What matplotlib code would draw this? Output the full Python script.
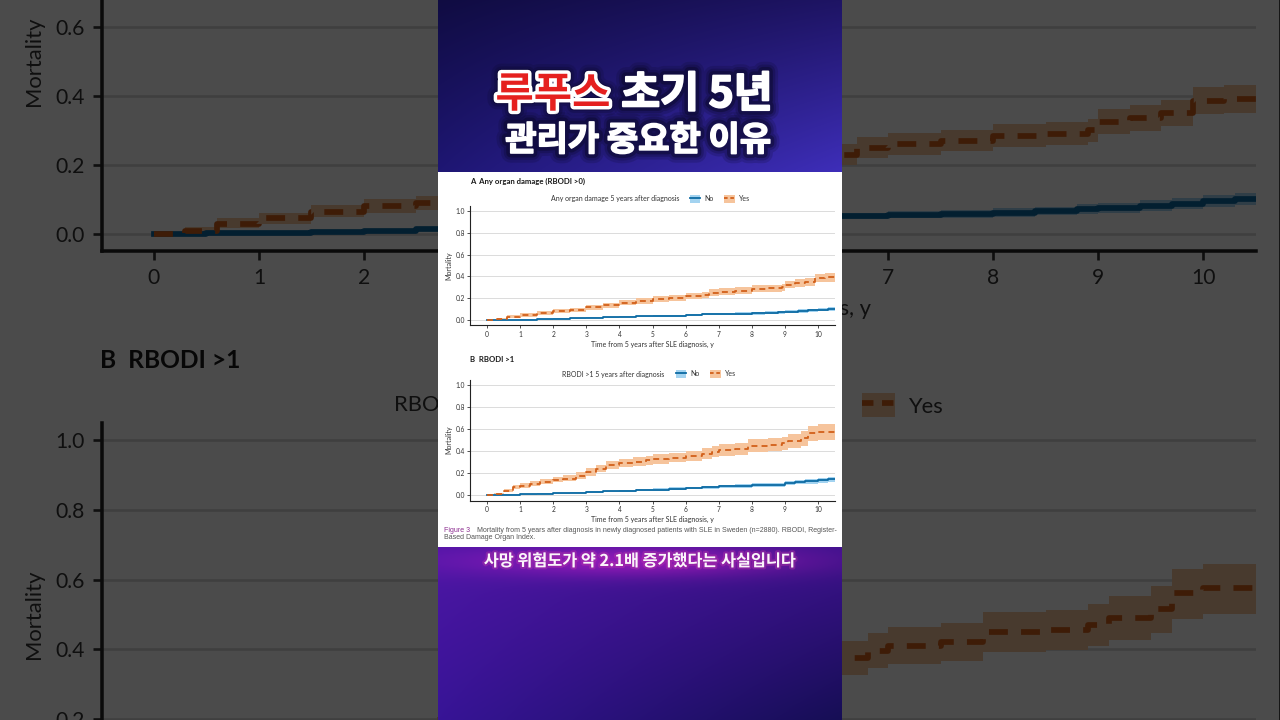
import numpy as np
import matplotlib
matplotlib.use("Agg")
import matplotlib.pyplot as plt
from matplotlib.patches import Patch, Rectangle
from matplotlib.lines import Line2D
import matplotlib.patheffects as pe

# ---------------- data ----------------
# Panel A: Any organ damage (RBODI >0)
t_a_yes = [0, 0.3, 0.6, 1.0, 1.5, 2.0, 2.5, 3.0, 3.5, 4.0, 4.5, 5.0, 5.5, 6.0, 6.5, 6.7, 7.0, 7.5, 8.0, 8.5, 8.9, 9.0, 9.3, 9.6, 9.9, 10.2, 10.5]
m_a_yes = [0, 0.010, 0.030, 0.045, 0.065, 0.080, 0.090, 0.115, 0.135, 0.160, 0.175, 0.190, 0.200, 0.220, 0.230, 0.250, 0.260, 0.270, 0.285, 0.290, 0.300, 0.325, 0.335, 0.350, 0.385, 0.390, 0.390]
lo_a_yes = [0, 0.003, 0.018, 0.030, 0.048, 0.062, 0.070, 0.093, 0.112, 0.136, 0.150, 0.164, 0.173, 0.192, 0.201, 0.220, 0.230, 0.239, 0.253, 0.258, 0.267, 0.290, 0.299, 0.313, 0.346, 0.350, 0.350]
hi_a_yes = [0, 0.020, 0.045, 0.062, 0.084, 0.100, 0.111, 0.138, 0.159, 0.185, 0.201, 0.217, 0.228, 0.249, 0.260, 0.281, 0.291, 0.302, 0.318, 0.323, 0.334, 0.361, 0.372, 0.388, 0.425, 0.430, 0.430]

t_a_no = [0, 0.5, 1.0, 1.5, 2.0, 2.5, 3.0, 3.5, 4.0, 4.5, 5.0, 5.5, 6.0, 6.5, 7.0, 7.5, 8.0, 8.4, 8.8, 9.0, 9.4, 9.7, 10.0, 10.3, 10.5]
m_a_no = [0, 0.002, 0.004, 0.007, 0.010, 0.015, 0.020, 0.025, 0.030, 0.033, 0.037, 0.040, 0.045, 0.052, 0.055, 0.058, 0.062, 0.066, 0.072, 0.076, 0.082, 0.088, 0.095, 0.100, 0.100]
lo_a_no = [0, 0.000, 0.001, 0.003, 0.006, 0.010, 0.014, 0.019, 0.023, 0.026, 0.029, 0.032, 0.036, 0.042, 0.045, 0.047, 0.050, 0.054, 0.059, 0.062, 0.067, 0.072, 0.079, 0.083, 0.083]
hi_a_no = [0, 0.004, 0.007, 0.011, 0.015, 0.020, 0.026, 0.032, 0.037, 0.041, 0.045, 0.049, 0.054, 0.062, 0.066, 0.069, 0.074, 0.079, 0.086, 0.091, 0.098, 0.105, 0.112, 0.118, 0.118]

# Panel B: RBODI >1
t_b_yes = [0, 0.2, 0.5, 0.8, 1.0, 1.3, 1.6, 2.0, 2.3, 2.7, 3.0, 3.3, 3.6, 4.0, 4.4, 4.8, 5.0, 5.5, 6.0, 6.5, 6.8, 7.0, 7.5, 7.9, 8.5, 8.9, 9.1, 9.5, 9.7, 10.0, 10.5]
m_b_yes = [0, 0.010, 0.040, 0.070, 0.085, 0.100, 0.120, 0.140, 0.150, 0.175, 0.210, 0.240, 0.270, 0.290, 0.300, 0.315, 0.325, 0.340, 0.355, 0.375, 0.395, 0.410, 0.420, 0.450, 0.455, 0.470, 0.490, 0.515, 0.560, 0.575, 0.575]
lo_b_yes = [0, 0.002, 0.025, 0.052, 0.064, 0.078, 0.096, 0.114, 0.123, 0.145, 0.177, 0.205, 0.233, 0.251, 0.260, 0.273, 0.282, 0.296, 0.309, 0.327, 0.345, 0.358, 0.366, 0.393, 0.397, 0.409, 0.426, 0.447, 0.487, 0.500, 0.500]
hi_b_yes = [0, 0.022, 0.058, 0.090, 0.108, 0.124, 0.146, 0.168, 0.179, 0.206, 0.245, 0.277, 0.309, 0.331, 0.342, 0.359, 0.370, 0.386, 0.403, 0.425, 0.447, 0.463, 0.475, 0.507, 0.514, 0.531, 0.553, 0.581, 0.630, 0.645, 0.645]

t_b_no = [0, 0.5, 1.0, 1.5, 2.0, 2.5, 3.0, 3.5, 4.0, 4.5, 5.0, 5.5, 6.0, 6.5, 7.0, 7.5, 8.0, 8.5, 9.0, 9.3, 9.6, 10.0, 10.3, 10.5]
m_b_no = [0, 0.004, 0.008, 0.012, 0.015, 0.020, 0.025, 0.032, 0.040, 0.045, 0.050, 0.057, 0.064, 0.070, 0.078, 0.083, 0.090, 0.095, 0.108, 0.117, 0.125, 0.135, 0.145, 0.145]
lo_b_no = [0, 0.001, 0.004, 0.007, 0.010, 0.014, 0.018, 0.024, 0.031, 0.035, 0.039, 0.045, 0.051, 0.056, 0.063, 0.067, 0.073, 0.077, 0.089, 0.097, 0.104, 0.113, 0.122, 0.122]
hi_b_no = [0, 0.007, 0.012, 0.017, 0.021, 0.026, 0.032, 0.040, 0.049, 0.055, 0.061, 0.069, 0.077, 0.084, 0.093, 0.099, 0.107, 0.113, 0.127, 0.137, 0.146, 0.157, 0.168, 0.168]

x_ticks = list(range(0, 11))
y_ticks = [0.0, 0.2, 0.4, 0.6, 0.8, 1.0]
y_ticklabels = ["0.0", "0.2", "0.4", "0.6", "0.8", "1.0"]
legend_labels = ["No", "Yes"]

title_a = "A  Any organ damage (RBODI >0)"
title_b = "B  RBODI >1"
legtitle_a = "Any organ damage 5 years after diagnosis"
legtitle_b = "RBODI >1 5 years after diagnosis"
xlabel = "Time from 5 years after SLE diagnosis, y"
ylabel = "Mortality"
caption_fig = "Figure 3"
caption_1 = "Mortality from 5 years after diagnosis in newly diagnosed patients with SLE in Sweden (n=2880). RBODI, Register-"
caption_2 = "Based Damage Organ Index."

headline_red = "루푸스"
headline_white = "초기 5년"
headline_2 = "관리가 중요한 이유"
subtitle = "사망 위험도가 약 2.1배 증가했다는 사실입니다"

# ---------------- style ----------------
W, H = 1280, 720
BLUE = "#0c6aa3"
BLUE_BAND = "#a3d3f0"
ORANGE = "#d2601a"
ORANGE_BAND = "#f6c49c"
CHART_FONT = "Lato"
CJK = ["Noto Sans CJK KR", "DejaVu Sans"]

fig = plt.figure(figsize=(12.8, 7.2), dpi=100)
fig.patch.set_facecolor("#4b4b4b")


def pfig(px, py, s, ox, oy):
    X = ox + s * (px - 487.0)
    Y = oy + s * (py - 320.0)
    return X / W, 1 - Y / H


def rect_fig(left, top, right, bottom, s, ox, oy):
    x0, y0 = pfig(left, bottom, s, ox, oy)
    x1, y1 = pfig(right, top, s, ox, oy)
    return [x0, y0, x1 - x0, y1 - y0]


PX0, PXU = 487.0, 33.1
panels = [
    dict(y0=320.0, ppu=109.0, title=title_a, title_y=181, legtitle=legtitle_a,
         leg_y=199, legtitle_right=679, leg_x=690,
         data=(t_a_no, m_a_no, lo_a_no, hi_a_no, t_a_yes, m_a_yes, lo_a_yes, hi_a_yes)),
    dict(y0=495.0, ppu=110.0, title=title_b, title_y=360, legtitle=legtitle_b,
         leg_y=374, legtitle_right=664, leg_x=676,
         data=(t_b_no, m_b_no, lo_b_no, hi_b_no, t_b_yes, m_b_yes, lo_b_yes, hi_b_yes)),
]

SMALL = 5.0


def draw_panel(s, ox, oy, z):
    x0, y0 = pfig(438, 547, s, ox, oy)
    x1, y1 = pfig(842, 172, s, ox, oy)
    fig.add_artist(Rectangle((x0, y0), x1 - x0, y1 - y0, transform=fig.transFigure,
                             facecolor="white", edgecolor="none", zorder=z - 0.5))
    for P in panels:
        left = PX0 - 0.5 * PXU
        right = PX0 + 10.5 * PXU
        top = P["y0"] - 1.05 * P["ppu"]
        bottom = P["y0"] + 0.05 * P["ppu"]
        ax = fig.add_axes(rect_fig(left, top, right, bottom, s, ox, oy), zorder=z)
        ax.set_facecolor("none")
        tn, mn, ln, hn, ty, my, ly, hy = P["data"]
        ax.fill_between(tn, ln, hn, step="post", color=BLUE_BAND, lw=0, zorder=2)
        ax.fill_between(ty, ly, hy, step="post", color=ORANGE_BAND, lw=0, zorder=2)
        ax.step(tn, mn, where="post", color=BLUE, lw=1.3 * s, zorder=3)
        ax.step(ty, my, where="post", color=ORANGE, lw=1.3 * s, dashes=(3.3, 2.3), zorder=3)
        ax.set_xlim(-0.5, 10.5)
        ax.set_ylim(-0.05, 1.05)
        ax.set_xticks(x_ticks)
        ax.set_yticks(y_ticks)
        ax.set_yticklabels(y_ticklabels)
        ax.yaxis.grid(True, color="#d6d6d6", lw=0.6 * s)
        ax.set_axisbelow(True)
        for sp in ["top", "right"]:
            ax.spines[sp].set_visible(False)
        for sp in ["left", "bottom"]:
            ax.spines[sp].set_linewidth(0.8 * s)
            ax.spines[sp].set_color("#222222")
        ax.tick_params(labelsize=4.8 * s, length=2 * s, width=0.6 * s, pad=1.8 * s,
                       colors="#333333", labelcolor="#333333")
        for lab in ax.get_xticklabels() + ax.get_yticklabels():
            lab.set_family(CHART_FONT)
        ax.set_xlabel(xlabel, fontsize=SMALL * s, family=CHART_FONT, color="#333333", labelpad=2.6 * s)
        ax.set_ylabel(ylabel, fontsize=SMALL * s, family=CHART_FONT, color="#333333", labelpad=2.6 * s)

        fig.text(*pfig(470, P["title_y"], s, ox, oy), P["title"], ha="left", va="center",
                 fontsize=5.6 * s, weight="bold", family=CHART_FONT, color="#1a1a1a", zorder=z + 0.1)
        fig.text(*pfig(P["legtitle_right"], P["leg_y"], s, ox, oy), P["legtitle"], ha="right",
                 va="center", fontsize=SMALL * s, family=CHART_FONT, color="#333333", zorder=z + 0.1)
        handles = [
            (Patch(facecolor=BLUE_BAND, edgecolor="none"), Line2D([], [], color=BLUE, lw=1.3 * s)),
            (Patch(facecolor=ORANGE_BAND, edgecolor="none"),
             Line2D([], [], color=ORANGE, lw=1.3 * s, dashes=(2.0, 1.5))),
        ]
        leg = ax.legend(handles, legend_labels, loc="center left",
                        bbox_to_anchor=pfig(P["leg_x"], P["leg_y"], s, ox, oy),
                        bbox_transform=fig.transFigure, ncol=2, frameon=False,
                        prop={"family": CHART_FONT, "size": SMALL * s},
                        handlelength=1.5, handleheight=1.3, handletextpad=0.6,
                        columnspacing=1.5, borderpad=0, borderaxespad=0)
        for t in leg.get_texts():
            t.set_color("#333333")

    fig.text(*pfig(444, 530, s, ox, oy), caption_fig, ha="left", va="center", fontsize=SMALL * s,
             family="Liberation Sans", color="#8b2c8f", zorder=z + 0.1)
    fig.text(*pfig(477, 530, s, ox, oy), caption_1, ha="left", va="center", fontsize=SMALL * s,
             family="Liberation Sans", color="#555555", zorder=z + 0.1)
    fig.text(*pfig(444, 537.5, s, ox, oy), caption_2, ha="left", va="center", fontsize=SMALL * s,
             family="Liberation Sans", color="#555555", zorder=z + 0.1)


# darkened zoomed background copy
draw_panel(3.17, 154.0, 234.0, 0)

# overlay with darkening and central column gradients
ov = fig.add_axes([0, 0, 1, 1], zorder=1)
ov.add_patch(Rectangle((0, 0), W, H, facecolor="black", alpha=0.705, edgecolor="none"))


def corner_gradient(h, w, tl, tr, bl, br):
    v = np.linspace(0, 1, h)[:, None, None]
    u = np.linspace(0, 1, w)[None, :, None]
    tl, tr, bl, br = [np.array(c, float)[None, None, :] / 255 for c in (tl, tr, bl, br)]
    top = tl * (1 - u) + tr * u
    bot = bl * (1 - u) + br * u
    return top * (1 - v) + bot * v


top_img = corner_gradient(172, 404, (16, 12, 66), (30, 20, 100), (30, 22, 115), (62, 46, 185))
ov.imshow(top_img, extent=(438, 842, 172, 0), aspect="auto", interpolation="bilinear", zorder=2)

bot_img = corner_gradient(173, 404, (78, 22, 165), (60, 18, 140), (55, 20, 150), (22, 14, 85))
yy = np.linspace(0, 173, 173)[:, None, None]
xx = np.linspace(0, 404, 404)[None, :, None]
glow = np.exp(-((yy - 14) / 16.0) ** 2) * np.exp(-((xx - 200) / 170.0) ** 2)
bot_img = np.clip(bot_img + glow * np.array([0.30, 0.02, 0.12])[None, None, :], 0, 1)
ov.imshow(bot_img, extent=(438, 842, 720, 547), aspect="auto", interpolation="bilinear", zorder=2)
ov.set_xlim(0, W)
ov.set_ylim(H, 0)
ov.axis("off")

# foreground figure panel
draw_panel(1.0, 487.0, 320.0, 2)

# headline texts (soft dark glow)
glow_fx = [pe.Stroke(linewidth=14, foreground="#0a0828", alpha=0.18),
           pe.Stroke(linewidth=10, foreground="#0a0828", alpha=0.25),
           pe.Stroke(linewidth=6.5, foreground="#0a0828", alpha=0.45)]
fig.text(553 / W, 1 - 95 / H, headline_red, ha="center", va="center", fontsize=30,
         weight=900, family=CJK, color="#e5201f", zorder=5,
         path_effects=glow_fx + [pe.Stroke(linewidth=5, foreground="white"), pe.Normal()])
fig.text(697 / W, 1 - 95 / H, headline_white, ha="center", va="center", fontsize=30.5,
         weight=900, family=CJK, color="white", zorder=5,
         path_effects=glow_fx + [pe.Stroke(linewidth=1.4, foreground="white"), pe.Normal()])
fig.text(638 / W, 1 - 140 / H, headline_2, ha="center", va="center", fontsize=24.5,
         weight=900, family=CJK, color="white", zorder=5,
         path_effects=glow_fx + [pe.Stroke(linewidth=1.2, foreground="white"), pe.Normal()])
fig.text(639 / W, 1 - 561 / H, subtitle, ha="center", va="center", fontsize=11.7,
         weight="bold", family=CJK, color="#fbf4fb", zorder=5,
         path_effects=[pe.Stroke(linewidth=3, foreground="#c03aa8", alpha=0.35), pe.Normal()])

fig.savefig("out.png", dpi=100)
